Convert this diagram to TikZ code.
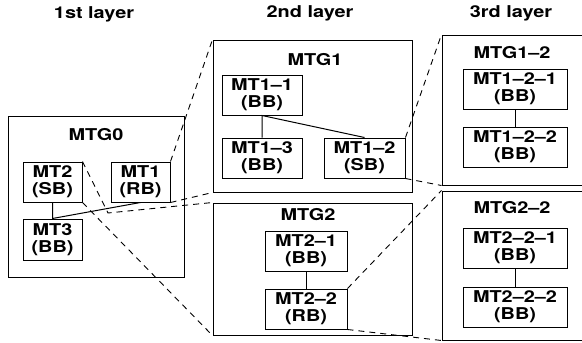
\documentclass[tikz,border=0pt]{standalone}
\usepackage{fontspec}
\newfontfamily\diagfont{TeX Gyre Heros}[FakeStretch=1.22]

\begin{document}
\begin{tikzpicture}[x=1pt,y=-1pt,
  font=\diagfont\bfseries\fontsize{16.3}{17}\selectfont,
  grp/.style={draw, line width=1pt, inner sep=0pt},
  mt/.style={draw, line width=1pt, inner sep=0pt, align=center, minimum height=40pt},
  link/.style={line width=1pt},
  zoomline/.style={line width=0.9pt, dash pattern=on 6pt off 5pt}]
\useasboundingbox (0,0) rectangle (582,343);
% layer titles
\node[anchor=base] (lay1) at (94,18) {1st layer};
\node[anchor=base] (lay2) at (310,17) {2nd layer};
\node[anchor=base] (lay3) at (511,17) {3rd layer};
% 1st layer
\node[grp, minimum width=176pt, minimum height=161pt] (mtg0) at (96,196.5) {};
\node[anchor=base] (tmtg0) at (96,140) {MTG0};
\node[mt, minimum width=59pt] (mt2) at (52.5,182) {MT2\\(SB)};
\node[mt, minimum width=59pt] (mt1) at (140.5,182) {MT1\\(RB)};
\node[mt, minimum width=59pt, minimum height=41pt] (mt3) at (52.5,239.5) {MT3\\(BB)};
\draw[link] (mt2.south)--(mt3.north)--(mt1.south);
% 2nd layer
\node[grp, minimum width=199pt, minimum height=152pt] (mtg1) at (312.5,116) {};
\node[anchor=base] (tmtg1) at (315,65) {MTG1};
\node[mt, minimum width=80pt] (mt11) at (262,95) {MT1–1\\(BB)};
\node[mt, minimum width=80pt] (mt13) at (262,158) {MT1–3\\(BB)};
\node[mt, minimum width=81pt] (mt12) at (364.5,158) {MT1–2\\(SB)};
\draw[link] (mt13.north)--(mt11.south)--(mt12.north);
\node[grp, minimum width=199pt, minimum height=132pt] (mtg2) at (312.5,269) {};
\node[anchor=base] (tmtg2) at (308,220) {MTG2};
\node[mt, minimum width=82pt] (mt21) at (306,251) {MT2–1\\(BB)};
\node[mt, minimum width=82pt] (mt22) at (306,309) {MT2–2\\(RB)};
\draw[link] (mt21.south)--(mt22.north);
% 3rd layer
\node[grp, minimum width=158pt, minimum height=150pt] (mtg12) at (521,110) {};
\node[anchor=base] (tmtg12) at (512,58) {MTG1–2};
\node[mt, minimum width=104pt] (mt121) at (515,89) {MT1–2–1\\(BB)};
\node[mt, minimum width=104pt] (mt122) at (515,147) {MT1–2–2\\(BB)};
\draw[link] (mt121.south)--(mt122.north);
\node[grp, minimum width=158pt, minimum height=149pt] (mtg22) at (521,265.5) {};
\node[anchor=base] (tmtg22) at (512,213) {MTG2–2};
\node[mt, minimum width=104pt] (mt221) at (515,248) {MT2–2–1\\(BB)};
\node[mt, minimum width=104pt] (mt222) at (515,307) {MT2–2–2\\(BB)};
\draw[link] (mt221.south)--(mt222.north);
% zoom lines
\coordinate (bend) at (108,213);
\draw[zoomline] (mt1.north east)--(mtg1.north west);
\draw[zoomline] (mt1.south east)--(mtg1.south west);
\draw[zoomline] (mt2.north east)--(bend)--(mtg2.north west);
\draw[zoomline] (mt2.south east)--(mtg2.south west);
\draw[zoomline] (mt12.north east)--(mtg12.north west);
\draw[zoomline] (mt12.south east)--(mtg12.south west);
\draw[zoomline] (mt22.north east)--(mtg22.north west);
\draw[zoomline] (mt22.south east)--(mtg22.south west);
\end{tikzpicture}
\end{document}
